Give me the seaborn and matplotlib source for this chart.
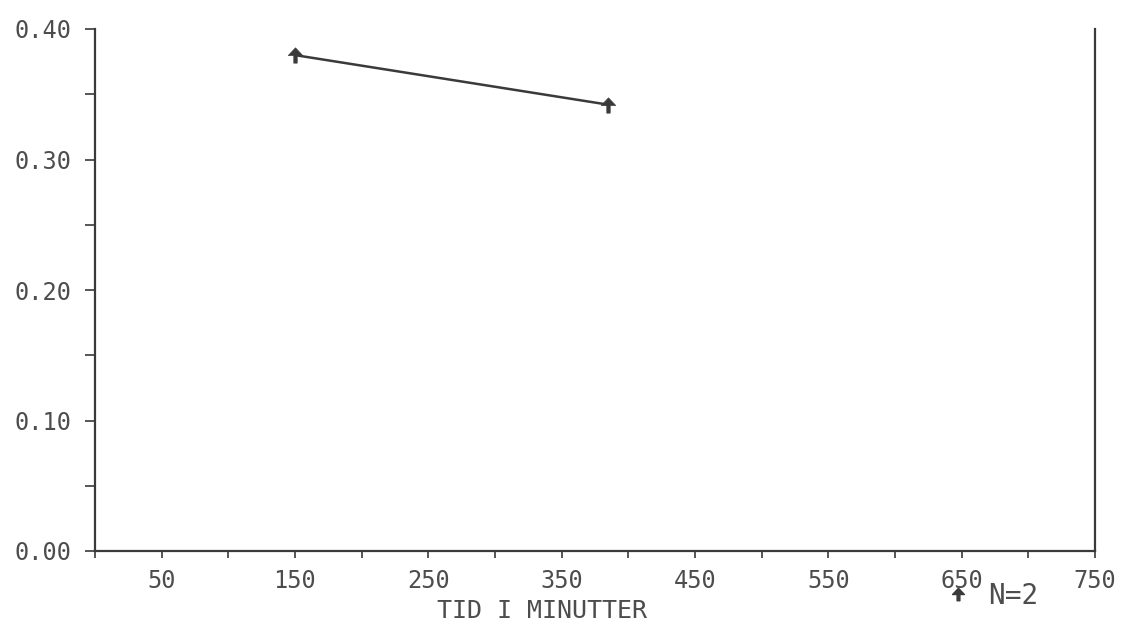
import matplotlib
matplotlib.use('Agg')
from matplotlib import pyplot as plt
from matplotlib.path import Path
from matplotlib.ticker import MultipleLocator, FixedLocator
import seaborn as sns

# Data
tid = [150, 385]
verdi = [0.38, 0.342]
xticks_major = [50, 150, 250, 350, 450, 550, 650, 750]
yticks_major = [0.0, 0.1, 0.2, 0.3, 0.4]
series_label = 'N=2'

sns.set_style('ticks')
plt.rcParams['font.family'] = ['DejaVu Sans Mono', 'DejaVu Sans']

ink = '#3a3a3a'
txt = '#4d4d4d'

# arrow-shaped plotter marker
arrow = Path([(0, 0.9), (-0.85, 0.0), (-0.2, 0.0), (-0.2, -0.9),
              (0.2, -0.9), (0.2, 0.0), (0.85, 0.0), (0, 0.9)],
             [Path.MOVETO] + [Path.LINETO] * 6 + [Path.CLOSEPOLY])

fig = plt.figure(figsize=(11.26, 6.31), dpi=100)
ax = fig.add_axes([95 / 1126, 80 / 631, 1000 / 1126, 522 / 631])

sns.lineplot(x=tid, y=verdi, ax=ax, color=ink, linewidth=1.8,
             marker=arrow, markersize=11, markeredgewidth=0.5,
             markeredgecolor=ink, markerfacecolor=ink)

ax.set_xlim(0, 750)
ax.set_ylim(0, 0.40)

ax.xaxis.set_major_locator(FixedLocator(xticks_major))
ax.xaxis.set_minor_locator(MultipleLocator(50))
ax.yaxis.set_major_locator(FixedLocator(yticks_major))
ax.yaxis.set_minor_locator(MultipleLocator(0.05))
ax.set_yticklabels([f'{v:.2f}' for v in yticks_major])

ax.tick_params(axis='x', which='both', direction='out', length=5,
               width=1.2, color=ink)
ax.tick_params(axis='x', which='major', pad=8, labelsize=17, labelcolor=txt)
ax.tick_params(axis='y', which='both', direction='out', length=7,
               width=1.2, color=ink)
ax.tick_params(axis='y', which='major', pad=10, labelsize=17, labelcolor=txt)

for side in ['left', 'bottom', 'right']:
    ax.spines[side].set_color(ink)
    ax.spines[side].set_linewidth(1.6)
ax.spines['top'].set_visible(False)

ax.text(0.447, -0.115, 'TID I MINUTTER', transform=ax.transAxes,
        ha='center', va='center', fontsize=18, color=txt)

handle = plt.Line2D([], [], linestyle='none', marker=arrow, markersize=9,
                    color=ink)
fig.legend([handle], [series_label], loc='center left',
           bbox_to_anchor=(930 / 1126, 35 / 631), frameon=False,
           borderpad=0, handlelength=1.0, handletextpad=0.6,
           prop={'size': 20}, labelcolor=txt)

fig.savefig('out.png', dpi=100)
